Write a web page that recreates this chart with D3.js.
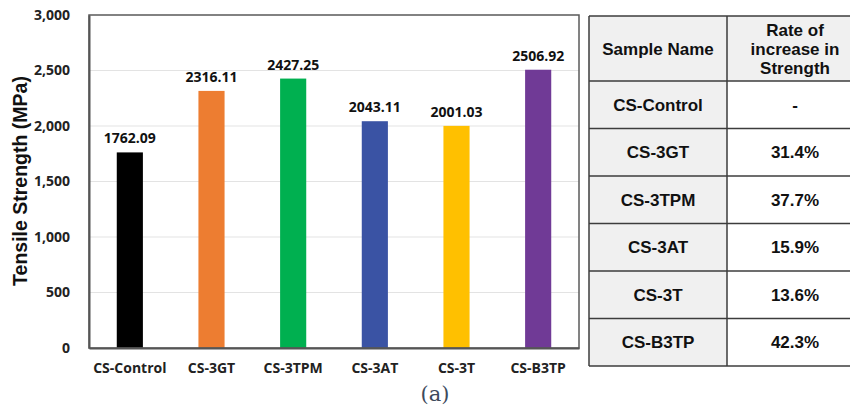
<!DOCTYPE html>
<html><head><meta charset="utf-8">
<script src="https://cdn.jsdelivr.net/npm/d3@7"></script>
<style>body{margin:0;background:#fff}svg{display:block}</style>
</head><body>
<svg id="c" width="850" height="410"></svg>
<script>
const categories = ["CS-Control","CS-3GT","CS-3TPM","CS-3AT","CS-3T","CS-B3TP"];
const strengths = [1762.09, 2316.11, 2427.25, 2043.11, 2001.03, 2506.92];
const barColors = ["#000000","#ED7D31","#00B050","#3A53A4","#FFC000","#703A96"];
const yTicks = [0,500,1000,1500,2000,2500,3000];
const tableHeader = ["Sample Name", ["Rate of","increase in","Strength"]];
const tableNames = ["CS-Control","CS-3GT","CS-3TPM","CS-3AT","CS-3T","CS-B3TP"];
const tableRates = ["-","31.4%","37.7%","15.9%","13.6%","42.3%"];

const svg = d3.select("#c");
const m = {l:89, r:579, t:15, b:348};
const x = d3.scaleBand().domain(categories).range([m.l, m.r]).paddingInner(0.68).paddingOuter(0.34);
const y = d3.scaleLinear().domain([0,3000]).range([m.b, m.t]);
const sans = "'Open Sans', 'Noto Sans', sans-serif";

// gridlines
svg.append("g").selectAll("line").data(yTicks.filter(d=>d>0 && d<3000)).join("line")
  .attr("x1", m.l).attr("x2", m.r).attr("y1", d=>y(d)).attr("y2", d=>y(d))
  .attr("stroke", "#e3e3e3").attr("stroke-width", 1.2);

// bars
svg.append("g").selectAll("rect").data(categories).join("rect")
  .attr("x", d=>x(d)).attr("width", x.bandwidth())
  .attr("y", (d,i)=>y(strengths[i])).attr("height", (d,i)=>y(0)-y(strengths[i]))
  .attr("fill", (d,i)=>barColors[i]);

// value labels
svg.append("g").selectAll("text").data(categories).join("text")
  .attr("x", d=>x(d)+x.bandwidth()/2).attr("y", (d,i)=>y(strengths[i])-9)
  .attr("text-anchor","middle").attr("font-family", sans).attr("font-weight",700)
  .attr("font-size", 14).attr("fill","#111")
  .text((d,i)=>strengths[i].toFixed(2));

// plot frame
svg.append("rect").attr("x", m.l).attr("y", m.t).attr("width", m.r-m.l).attr("height", m.b-m.t)
  .attr("fill","none").attr("stroke","#5a5a5a").attr("stroke-width",1.5);

// y axis
const ya = svg.append("g").attr("transform", `translate(${m.l},0)`)
  .call(d3.axisLeft(y).tickValues(yTicks).tickSize(0).tickPadding(19).tickFormat(d3.format(",")));
ya.select(".domain").attr("stroke","#555").attr("stroke-width",2);
ya.selectAll("text").attr("font-family", sans).attr("font-weight",700).attr("font-size",14).attr("fill","#222");

// x axis
const xa = svg.append("g").attr("transform", `translate(0,${m.b})`)
  .call(d3.axisBottom(x).tickSize(0).tickPadding(15));
xa.select(".domain").attr("stroke","#555").attr("stroke-width",2);
xa.selectAll("text").attr("font-family", sans).attr("font-weight",700).attr("font-size",14).attr("fill","#222");

// y title
svg.append("text").attr("transform","translate(27,181) rotate(-90)")
  .attr("text-anchor","middle").attr("font-family","'Liberation Sans', Arial, sans-serif")
  .attr("font-weight",700).attr("font-size",19.5).attr("fill","#111")
  .text("Tensile Strength (MPa)");

// caption
svg.append("text").attr("x",435).attr("y",401).attr("text-anchor","middle")
  .attr("font-family","'DejaVu Serif', 'Liberation Serif', serif").attr("font-size",21)
  .attr("fill","#3d4a5c").text("(a)");

// table
const tx0 = 589, tx1 = 727, tx2 = 852;
const headTop = 16, headBot = 81, rowBot = 366;
const rowY = d3.scaleBand().domain(tableNames).range([headBot, rowBot]);
const tf = "'Liberation Sans', Arial, sans-serif";
const tg = svg.append("g");
tg.append("rect").attr("x",tx0).attr("y",headTop).attr("width",tx2-tx0).attr("height",headBot-headTop).attr("fill","#f0f0f0");
tg.selectAll("rect.c1").data(tableNames).join("rect").attr("class","c1")
  .attr("x",tx0).attr("y",d=>rowY(d)).attr("width",tx1-tx0).attr("height",rowY.bandwidth()).attr("fill","#f0f0f0");
// lines
const hl = [headTop, headBot].concat(tableNames.map(d=>rowY(d)+rowY.bandwidth()));
tg.selectAll("line.h").data(hl).join("line").attr("class","h")
  .attr("x1",tx0).attr("x2",tx2).attr("y1",d=>d).attr("y2",d=>d).attr("stroke","#3c3c3c").attr("stroke-width",1.5);
tg.selectAll("line.v").data([tx0,tx1]).join("line").attr("class","v")
  .attr("x1",d=>d).attr("x2",d=>d).attr("y1",headTop).attr("y2",rowBot).attr("stroke","#3c3c3c").attr("stroke-width",1.5);
// header text
tg.append("text").attr("x",(tx0+tx1)/2).attr("y",(headTop+headBot)/2+6).attr("text-anchor","middle")
  .attr("font-family",tf).attr("font-weight",700).attr("font-size",17).attr("fill","#111").text(tableHeader[0]);
tg.append("text").attr("text-anchor","middle").attr("font-family",tf).attr("font-weight",700).attr("font-size",17).attr("fill","#111")
  .selectAll("tspan").data(tableHeader[1]).join("tspan")
  .attr("x",795).attr("y",(d,i)=>36+i*19).text(d=>d);
// rows
tg.selectAll("text.n").data(tableNames).join("text").attr("class","n")
  .attr("x",(tx0+tx1)/2).attr("y",d=>rowY(d)+rowY.bandwidth()/2+6).attr("text-anchor","middle")
  .attr("font-family",tf).attr("font-weight",700).attr("font-size",17).attr("fill","#111").text(d=>d);
tg.selectAll("text.r").data(tableRates).join("text").attr("class","r")
  .attr("x",795).attr("y",(d,i)=>rowY(tableNames[i])+rowY.bandwidth()/2+6).attr("text-anchor","middle")
  .attr("font-family",tf).attr("font-weight",700).attr("font-size",17).attr("fill","#111").text(d=>d);
</script>
</body></html>
